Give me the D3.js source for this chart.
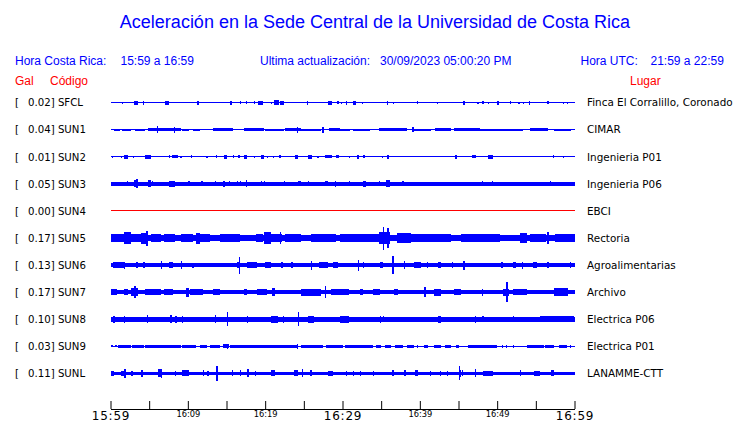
<!DOCTYPE html>
<html>
<head>
<meta charset="utf-8">
<script src="https://cdn.jsdelivr.net/npm/d3@7"></script>
<style>
html,body{margin:0;padding:0;background:#fff;}
svg{display:block;}
</style>
</head>
<body>
<svg id="chart" width="740" height="423"></svg>
<script>
// ---------------- DATA ----------------
const title = "Aceleración en la Sede Central de la Universidad de Costa Rica";
const headerLocal = ["Hora Costa Rica:", "15:59 a 16:59"];
const headerUpdate = ["Ultima actualización:", "30/09/2023 05:00:20 PM"];
const headerUTC = ["Hora UTC:", "21:59 a 22:59"];
const colHeaders = ["Gal", "Código", "Lugar"];

const codes = ["SFCL","SUN1","SUN2","SUN3","SUN4","SUN5","SUN6","SUN7","SUN8","SUN9","SUNL"];
const gal = [0.02,0.04,0.01,0.05,0.00,0.17,0.13,0.17,0.10,0.03,0.11];
const places = ["Finca El Corralillo, Coronado","CIMAR","Ingenieria P01","Ingenieria P06","EBCI",
  "Rectoria","Agroalimentarias","Archivo","Electrica P06","Electrica P01","LANAMME-CTT"];
// background noise half-amplitude per station (relative units)
const baseAmp = [0.5,0.5,0.5,1.7,0.5,3.3,1.7,2.0,2.5,0.5,1.7];
const dead = [false,false,false,false,true,false,false,false,false,false,false];

// bursts: [start minute, end minute, half-amplitude], minutes after 15:59
const evSFCL = [[1.55,1.55,1],[3.0,3.5,2],[4.2,4.35,2],[7.1,7.6,2],[11.2,11.5,2],[15.5,15.6,2],[16.8,16.8,1.5],[17.6,17.6,1.5],[18.6,18.6,1.5],[19.1,19.7,2],[20.8,20.8,1],[21.1,21.8,2.5],[21.9,22.4,2],[25.4,25.6,2],[28.1,28.7,2],[29.4,29.4,1.5],[29.9,29.9,1],[30.4,30.6,2],[31.3,31.8,2],[32.6,32.6,1],[35.7,35.8,2],[36.6,36.6,1],[39.7,39.7,1.5],[42.3,42.3,1],[45.6,45.7,2],[47.5,47.5,1],[48.2,48.2,1.5],[48.9,48.9,1],[50.0,50.3,2],[51.7,51.7,1.5],[52.8,52.8,1],[53.4,53.4,1],[54.1,54.2,2],[56.6,56.6,1.5],[58.6,58.6,1],[59.1,59.1,1]];
const evSUN1 = [[0.4,1.2,1.2],[1.5,2.6,1.1],[3.2,4.5,1.2],[4.8,9.1,1.6],[6.1,6.1,3.5],[8.3,8.3,3],[9.3,10.1,1.2],[10.7,11.6,1.2],[13.3,15.9,1.6],[17.2,19.8,1.4],[20.0,22.4,1.2],[22.6,24.6,1.6],[24.2,24.2,3],[24.6,27.2,1.2],[27.5,27.5,3],[28.2,29.7,1.6],[29.7,31.0,1.2],[31.4,33.6,1.2],[34.7,38.4,1.6],[39.1,39.1,2.5],[39.2,41.4,1.2],[42.0,44.0,1.6],[44.4,47.8,1.4],[47.8,53.4,1.2],[54.3,56.6,1.6],[57.3,59.5,1.2]];
const evSUN2 = [[0.26,0.26,1],[1.4,1.4,1],[1.8,2.2,2],[3.0,3.0,1],[4.4,5.2,2],[7.6,7.6,1.5],[8.0,8.7,1.5],[9.1,9.1,1],[10.5,10.5,1.5],[12.5,12.5,1],[13.7,13.7,1.5],[14.7,15.1,2],[15.8,16.0,1.5],[16.5,16.7,1.5],[17.2,17.7,2],[18.6,18.6,1],[19.4,19.8,2],[20.3,20.3,1],[21.1,21.1,1],[21.9,21.9,1.5],[23.9,24.3,2],[25.6,26.0,2],[26.8,26.8,1],[27.8,28.7,1.5],[29.1,29.6,1.5],[30.9,30.9,1],[31.9,32.1,2],[32.7,32.8,1.5],[35.2,35.2,1],[35.9,35.9,2],[44.7,44.7,2],[46.8,47.2,1.5],[48.8,49.4,2],[57.3,57.3,1.5],[58.6,58.6,1]];
const evSUN3 = [[0,6,2.1],[2.2,2.2,2.5],[3.0,3.5,3.5],[3.4,3.4,4.5],[4.8,5.2,3.5],[5.4,5.4,2.5],[7.5,8.4,3],[10.0,10.3,2.5],[11.8,11.8,2.5],[13.6,13.6,2.5],[14.7,14.7,3],[15.4,15.4,2.5],[16.4,16.4,2.5],[16.8,16.8,2.5],[17.5,17.7,3.5],[19.5,19.5,2.5],[19.9,19.9,2.5],[22.4,22.6,2.5],[24.2,24.6,2.5],[25.6,25.6,2.5],[27.8,28.1,2.5],[29.1,29.1,3],[30.9,30.9,2.5],[32.7,33.0,3],[34.7,34.9,2.5],[35.6,36.1,3.5],[37.8,37.8,2.5],[48.1,48.1,2.5],[49.4,49.4,2.5],[56.9,56.9,2.5]];
const evSUN4 = [];
const evSUN5 = [[0,1.7,4.0],[1.7,2.6,6],[2.6,3.9,4.0],[3.9,4.9,5.5],[4.7,4.7,7.5],[5.2,6.5,4.0],[6.9,8.4,3.7],[9.1,10.7,3.7],[11.0,11.6,5.5],[11.6,12.9,4.0],[14.2,16.8,3.7],[18.8,19.7,4.0],[19.8,20.7,6],[20.7,22.2,4.0],[22.0,22.0,6],[22.6,24.6,3.7],[25.9,29.1,3.7],[29.7,32.3,4.0],[32.3,34.7,3.7],[34.7,36.2,6],[35.3,35.3,11.5],[35.9,35.9,10],[37.1,38.8,5],[38.8,44.0,3.7],[45.3,50.4,3.7],[53.0,53.9,5],[54.3,56.3,4.0],[56.6,56.6,6],[57.5,60,4.0]];
const evSUN6 = [[0.3,1.7,3],[1.8,1.8,3.5],[3.4,3.4,3],[4.3,4.3,3],[6.6,6.6,4],[7.5,8.1,3],[9.2,9.2,4],[10.7,10.7,2.5],[16.4,16.8,3],[16.7,16.7,8.5],[17.7,19.0,3],[20.0,20.7,3],[22.2,22.2,3],[23.5,23.5,3],[26.0,26.0,4.5],[26.9,28.1,3],[28.8,29.4,3],[32.1,32.1,5.5],[32.7,32.7,3],[34.9,35.3,3],[36.5,36.5,9],[38.0,38.0,4],[39.2,40.1,3],[41.0,41.0,3],[42.3,42.7,3],[44.2,44.2,3],[45.6,45.9,4.5],[50.6,50.6,3],[52.0,52.4,3],[53.3,53.3,3.5],[54.6,55.2,3],[56.6,56.6,3],[59.5,59.5,3]];
const evSUN7 = [[0,0.9,3],[1.7,2.2,3],[2.6,3.6,4],[3.2,3.2,6],[4.5,6.5,3],[6.9,8.1,3],[9.7,10.1,4.5],[10.3,12.0,3],[13.3,14.2,3],[17.2,17.7,3],[19.0,20.3,3],[20.9,21.3,4],[24.6,27.2,3.5],[27.8,27.8,6],[28.5,30.8,3],[32.3,32.7,3],[33.9,34.9,3],[36.6,37.2,3],[40.7,40.7,5],[41.8,42.7,3.5],[44.4,45.3,3],[48.1,48.1,3.5],[50.8,51.5,3.5],[51.3,51.3,10],[52.1,53.9,3],[57.3,59.1,4]];
const evSUN8 = [[0.3,0.6,3.5],[1.7,1.9,3.5],[4.8,4.8,4],[7.8,7.8,4],[8.5,8.5,3.5],[9.3,9.3,3.5],[13.6,13.6,4],[15.1,15.1,7],[17.7,17.7,3.5],[20.7,21.6,3.5],[22.4,22.4,3.5],[24.3,24.3,7],[25.6,26.3,3.5],[29.7,30.8,3.5],[34.9,34.9,3.5],[35.3,35.3,3],[42.3,42.7,3.5],[47.2,47.2,3.5],[48.2,48.2,3],[52.1,52.1,3],[55.6,59.9,3]];
const evSUN9 = [[0.1,0.3,1.2],[0.6,0.9,1.2],[1.0,2.6,1.4],[2.8,4.3,1.4],[4.5,9.1,1.4],[9.3,11.0,1.4],[11.6,12.5,1.4],[12.9,14.2,1.4],[14.6,15.3,1.8],[15.1,15.1,2.5],[15.5,22.9,1.4],[23.0,24.2,1.4],[24.2,24.2,2.5],[24.6,27.5,1.4],[27.9,30.0,1.4],[30.3,34.0,1.4],[34.3,35.0,1.4],[35.5,36.3,1.4],[36.8,37.8,1.4],[38.4,39.2,1.4],[39.6,39.7,1.4],[40.5,41.0,1.4],[41.8,42.7,1.4],[43.2,44.0,1.4],[44.7,45.1,1.4],[46.2,50.0,1.4],[50.6,50.7,1.4],[51.1,51.2,1.4],[52.1,52.1,1.4],[53.9,56.0,1.4],[56.2,57.3,1.4],[58.0,59.0,1.4],[59.5,59.5,1.4]];
const evSUNL = [[0,0.4,2.5],[1.3,1.7,2.5],[1.9,1.9,4.7],[2.8,2.8,2.5],[4.1,4.1,3.5],[6.2,6.7,4],[6.6,6.6,4.5],[8.4,8.4,2.5],[9.3,10.1,3],[11.9,12.0,3],[12.5,12.7,2.5],[13.8,13.8,7.5],[15.8,15.8,3],[16.8,16.8,3],[17.8,17.8,4],[18.75,18.75,2.5],[20.7,21.3,3],[23.7,24.2,3],[24.8,24.8,4],[25.9,25.9,3],[28.1,28.8,2.5],[30.5,30.5,2.5],[31.4,31.4,2.5],[32.3,32.3,2.5],[34.0,34.0,2.5],[36.5,36.5,3],[38.1,38.1,3],[39.4,39.8,3],[41.4,41.4,2.5],[42.7,42.7,2.5],[43.6,43.6,2.5],[45.0,45.3,3.5],[45.1,45.1,7],[45.5,45.5,3],[47.2,47.2,4],[48.2,49.5,2.5],[53.0,53.0,3],[54.7,55.6,2.5],[56.9,57.3,3]];
const events = [evSFCL,evSUN1,evSUN2,evSUN3,evSUN4,evSUN5,evSUN6,evSUN7,evSUN8,evSUN9,evSUNL];

const tickMinutes = [0,5,10,15,20,25,30,35,40,45,50,55,60];
const tickLabels = ["15:59","","16:09","","16:19","","16:29","","16:39","","16:49","","16:59"];
const majorTicks = ["15:59","16:29","16:59"];

// ---------------- DRAW ----------------
const svg = d3.select("#chart");
const blue = "#0000ff", red = "#ff0000";

const x = d3.scaleLinear().domain([0,60]).range([110.5,574.5]);
const y = d3.scalePoint().domain(codes).range([102.7,373.3]);
const a = d3.scaleLinear().domain([0,1]).range([0,1]);

svg.append("text").attr("x",375).attr("y",28).attr("text-anchor","middle")
  .attr("font-family","Liberation Sans, Arial, sans-serif").attr("font-size",18)
  .attr("fill",blue).text(title);

const hdr = svg.append("g").attr("font-family","Liberation Sans, Arial, sans-serif")
  .attr("font-size",12).attr("fill",blue);
[[15,headerLocal[0]],[120.5,headerLocal[1]],[260,headerUpdate[0]],[380,headerUpdate[1]],
 [580.5,headerUTC[0]],[650.5,headerUTC[1]]].forEach(d=>{
  hdr.append("text").attr("x",d[0]).attr("y",65).text(d[1]);
});
const ch = svg.append("g").attr("font-family","Liberation Sans, Arial, sans-serif")
  .attr("font-size",12).attr("fill",red);
ch.append("text").attr("x",15).attr("y",85).text(colHeaders[0]);
ch.append("text").attr("x",50).attr("y",85).text(colHeaders[1]);
ch.append("text").attr("x",630).attr("y",85).text(colHeaders[2]);

// labels
const lab = svg.append("g").attr("font-family","DejaVu Sans, sans-serif").attr("font-size",10.2).attr("fill","#000");
codes.forEach((c,i)=>{
  const cy = y(c);
  lab.append("text").attr("x",15).attr("y",cy+3.7).text("[");
  lab.append("text").attr("x",28).attr("y",cy+3.7).text(d3.format(".2f")(gal[i])+"] "+c);
  lab.append("text").attr("x",587).attr("y",cy+3.7).attr("font-size",10.4).text(places[i]);
});

// traces
const tr = svg.append("g").attr("shape-rendering","crispEdges");
codes.forEach((c,i)=>{
  const cy = y(c);
  const col = dead[i] ? red : blue;
  const g = tr.append("g").attr("fill",col);
  const b = Math.max(a(baseAmp[i]),0.5);
  g.append("rect").attr("x",x(0)).attr("width",x(60)-x(0))
    .attr("y",cy-b).attr("height",2*b);
  g.selectAll("rect.ev").data(events[i]).join("rect").attr("class","ev")
    .attr("x",d=> d[1]>d[0] ? x(d[0]) : x(d[0])-0.75)
    .attr("width",d=> Math.max(1.5, x(d[1])-x(d[0])))
    .attr("y",d=>cy-a(d[2]))
    .attr("height",d=>2*a(d[2]));
});

// axis
const axis = d3.axisBottom(x).tickValues(tickMinutes).tickSizeInner(-8).tickSizeOuter(0)
  .tickPadding(0).tickFormat((d,i)=>tickLabels[i]);
const ag = svg.append("g").attr("transform","translate(0,409)").call(axis);
ag.select(".domain").attr("stroke","#000").attr("stroke-width",1);
ag.selectAll(".tick line").attr("stroke","#000");
ag.selectAll(".tick text").attr("fill","#000")
  .attr("font-family","DejaVu Sans, sans-serif")
  .attr("font-size",(d,i)=> majorTicks.includes(tickLabels[i]) ? 12 : 8.3)
  .attr("letter-spacing",(d,i)=> majorTicks.includes(tickLabels[i]) ? 0.8 : 0)
  .attr("font-weight","normal")
  .attr("dy",0)
  .attr("y",(d,i)=> majorTicks.includes(tickLabels[i]) ? 11 : 8.3);
</script>
</body>
</html>
